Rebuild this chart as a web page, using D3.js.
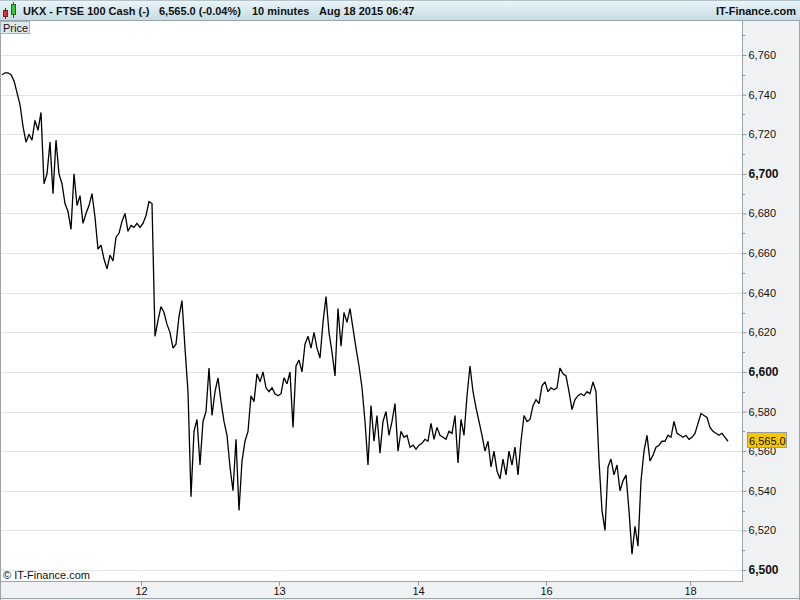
<!DOCTYPE html>
<html><head><meta charset="utf-8">
<script src="https://cdn.jsdelivr.net/npm/d3@7"></script>
<style>html,body{margin:0;padding:0;background:#fff;}svg{display:block;}</style>
</head><body>
<script>
// ---- data ----
const titleParts = ["UKX - FTSE 100 Cash (-)", "6,565.0 (-0.04%)", "10 minutes", "Aug 18 2015 06:47"];
const brand = "IT-Finance.com";
const lastPrice = 6565.0;
const lastLabel = "6,565.0";
const firstBar = 2;   // bar index of first 10-minute sample
const barStep = 3;    // bars between samples
const prices = [
6750,6751,6751,6750,6747,6741,6735,6724,6716,6720,6717,6727,6722,6731,6695,6700,6716,6690,6717,6700,
6695,6685,6681,6672,6700,6684,6689,6675,6680,6684,6690,6678,6662,6664,6657,6652,6659,6656,6668,6670,
6676,6680,6671,6674,6673,6675,6673,6675,6679,6686,6685,6618,6626,6633,6630,6624,6620,6612,6614,6628,
6636,6612,6590,6537,6570,6576,6553,6575,6580,6602,6578,6590,6597,6585,6575,6568,6552,6540,6566,6530,
6555,6565,6570,6588,6585,6599,6595,6600,6592,6590,6592,6589,6588,6589,6597,6594,6600,6572,6603,6606,
6600,6614,6618,6612,6620,6612,6607,6625,6638,6620,6610,6598,6632,6613,6630,6625,6632,6622,6612,6603,
6592,6575,6553,6583,6565,6578,6559,6575,6580,6568,6575,6584,6560,6570,6567,6568,6562,6563,6561,6563,
6564,6566,6565,6574,6566,6572,6568,6567,6566,6570,6569,6578,6554,6576,6568,6588,6603,6590,6582,6575,
6568,6560,6565,6552,6560,6550,6546,6556,6548,6560,6553,6562,6548,6565,6578,6575,6576,6583,6586,6584,
6593,6595,6590,6592,6591,6592,6602,6599,6598,6590,6581,6586,6588,6589,6588,6590,6589,6595,6590,6555,
6530,6520,6552,6556,6548,6553,6540,6545,6548,6530,6508,6522,6512,6545,6560,6568,6555,6558,6562,6563,
6565,6565,6568,6567,6575,6569,6568,6567,6568,6566,6567,6569,6574,6579,6578,6577,6572,6570,6569,6568,
6569,6567,6565
];
const dayLabels = ["12", "13", "14", "16", "18"];
const dayBars = [141, 279, 418, 546, 690];
const yMin = 6500, yMax = 6760, yStep = 20;

// ---- layout ----
const W = 800, H = 600;
const plot = {left: 0, top: 21, right: 742, bottom: 581};
const font = "'Liberation Sans', Arial, sans-serif";

const svg = d3.select("body").append("svg").attr("width", W).attr("height", H)
  .style("font-family", font);

const defs = svg.append("defs");
const grad = defs.append("linearGradient").attr("id", "hdr").attr("x1", 0).attr("y1", 0).attr("x2", 0).attr("y2", 1);
grad.append("stop").attr("offset", "0%").attr("stop-color", "#eaf6fb");
grad.append("stop").attr("offset", "100%").attr("stop-color", "#c6dbe4");
defs.append("clipPath").attr("id", "clip").append("rect")
  .attr("x", plot.left).attr("y", plot.top).attr("width", plot.right - plot.left).attr("height", plot.bottom - plot.top);

// background panels
svg.append("rect").attr("x", 0).attr("y", 0).attr("width", W).attr("height", H).attr("fill", "#eff1f3");
svg.append("rect").attr("x", plot.left).attr("y", plot.top).attr("width", plot.right - plot.left)
  .attr("height", plot.bottom - plot.top).attr("fill", "#ffffff");

const x = d3.scaleLinear().domain([0, 742]).range([plot.left, plot.right]);
const y = d3.scaleLinear().domain([yMin, yMax]).range([570, 55]);

// gridlines
const majors = d3.range(yMin, yMax + 1, yStep);
svg.append("g").selectAll("line").data(majors).join("line")
  .attr("x1", plot.left).attr("x2", plot.right)
  .attr("y1", d => Math.round(y(d)) + 0.5).attr("y2", d => Math.round(y(d)) + 0.5)
  .attr("stroke", "#e4e4e4").attr("stroke-width", 1);

// price line
const data = prices.map((v, i) => ({bar: firstBar + i * barStep, v}));
svg.append("path").datum(data)
  .attr("clip-path", "url(#clip)")
  .attr("fill", "none").attr("stroke", "#000").attr("stroke-width", 1.3)
  .attr("stroke-linejoin", "miter").attr("stroke-miterlimit", 2)
  .attr("d", d3.line().x(d => x(d.bar)).y(d => y(d.v)));

// plot borders
svg.append("line").attr("x1", plot.right + 0.5).attr("x2", plot.right + 0.5).attr("y1", plot.top).attr("y2", plot.bottom + 1)
  .attr("stroke", "#9aa4ab");
svg.append("line").attr("x1", 0).attr("x2", plot.right + 1).attr("y1", plot.bottom + 0.5).attr("y2", plot.bottom + 0.5)
  .attr("stroke", "#9aa4ab");
svg.append("line").attr("x1", 0.5).attr("x2", 0.5).attr("y1", plot.top).attr("y2", H).attr("stroke", "#9aa4ab");
svg.append("line").attr("x1", W - 0.5).attr("x2", W - 0.5).attr("y1", 0).attr("y2", H).attr("stroke", "#9aa4ab");
svg.append("line").attr("x1", 0).attr("x2", W).attr("y1", H - 1.5).attr("y2", H - 1.5).attr("stroke", "#9aa4ab");

// right axis
const yAxis = d3.axisRight(y).tickValues(majors).tickSize(4)
  .tickFormat(d3.format(","));
const gy = svg.append("g").attr("transform", `translate(${plot.right + 0.5},0)`).call(yAxis);
gy.select(".domain").remove();
gy.selectAll(".tick line").attr("stroke", "#8d979e");
gy.selectAll(".tick text").attr("x", 6).attr("fill", "#111")
  .style("font-family", font)
  .style("font-size", d => d % 100 === 0 ? "12px" : "11px")
  .style("font-weight", d => d % 100 === 0 ? "bold" : "normal");
// minor ticks
const minors = d3.range(yMin + yStep / 2, yMax + yStep, yStep);
svg.append("g").selectAll("line").data(minors).join("line")
  .attr("x1", plot.right).attr("x2", plot.right + 3)
  .attr("y1", d => Math.round(y(d)) + 0.5).attr("y2", d => Math.round(y(d)) + 0.5)
  .attr("stroke", "#8d979e");

// bottom axis
const xAxis = d3.axisBottom(x).tickValues(dayBars).tickSize(4)
  .tickFormat((d, i) => dayLabels[i]);
const gx = svg.append("g").attr("transform", `translate(0,${plot.bottom + 0.5})`).call(xAxis);
gx.select(".domain").remove();
gx.selectAll(".tick line").attr("stroke", "#8d979e");
gx.selectAll(".tick text").attr("y", 6).attr("fill", "#111")
  .style("font-family", font).style("font-size", "11px");

// last price label
const ly = y(lastPrice);
svg.append("rect").attr("x", 747.5).attr("y", Math.round(ly) - 8.5).attr("width", 39).attr("height", 15)
  .attr("fill", "#f7c600").attr("stroke", "#9a9a9a");
svg.append("text").attr("x", 749).attr("y", Math.round(ly) + 3.5).attr("font-size", "11px")
  .attr("fill", "#111").text(lastLabel);

// header
svg.append("rect").attr("x", 0).attr("y", 0).attr("width", W).attr("height", 20).attr("fill", "url(#hdr)");
svg.append("line").attr("x1", 0).attr("x2", W).attr("y1", 20.5).attr("y2", 20.5).attr("stroke", "#97a5ad");
svg.append("line").attr("x1", 0).attr("x2", W).attr("y1", 0.5).attr("y2", 0.5).attr("stroke", "#b5c3ca");
// candle icon
const icon = svg.append("g");
icon.append("line").attr("x1", 5.5).attr("x2", 5.5).attr("y1", 8).attr("y2", 19).attr("stroke", "#7a1010");
icon.append("rect").attr("x", 3.5).attr("y", 10.5).attr("width", 4).attr("height", 6).attr("fill", "#e03030").attr("stroke", "#8a1a1a");
icon.append("line").attr("x1", 13.5).attr("x2", 13.5).attr("y1", 2).attr("y2", 18).attr("stroke", "#1a6a1a");
icon.append("rect").attr("x", 11.5).attr("y", 4.5).attr("width", 4).attr("height", 10).attr("fill", "#33cc33").attr("stroke", "#1a6a1a");

const hdrX = [23, 159, 252, 319];
svg.append("g").selectAll("text").data(titleParts).join("text")
  .attr("x", (d, i) => hdrX[i]).attr("y", 15)
  .attr("font-size", "11px").attr("font-weight", "bold").attr("fill", "#111").text(d => d);
svg.append("text").attr("x", 796).attr("y", 15).attr("text-anchor", "end")
  .attr("font-size", "11px").attr("font-weight", "bold").attr("fill", "#111").text(brand);

// "Price" tag
svg.append("rect").attr("x", 0.5).attr("y", 21.5).attr("width", 29).attr("height", 12)
  .attr("fill", "#dfe8ef").attr("stroke", "#a7b4bc");
svg.append("text").attr("x", 3).attr("y", 31.5).attr("font-size", "11px").attr("fill", "#111").text("Price");

// copyright
svg.append("text").attr("x", 3).attr("y", 579).attr("font-size", "11px").attr("fill", "#111").text("© " + brand);
</script>
</body></html>
